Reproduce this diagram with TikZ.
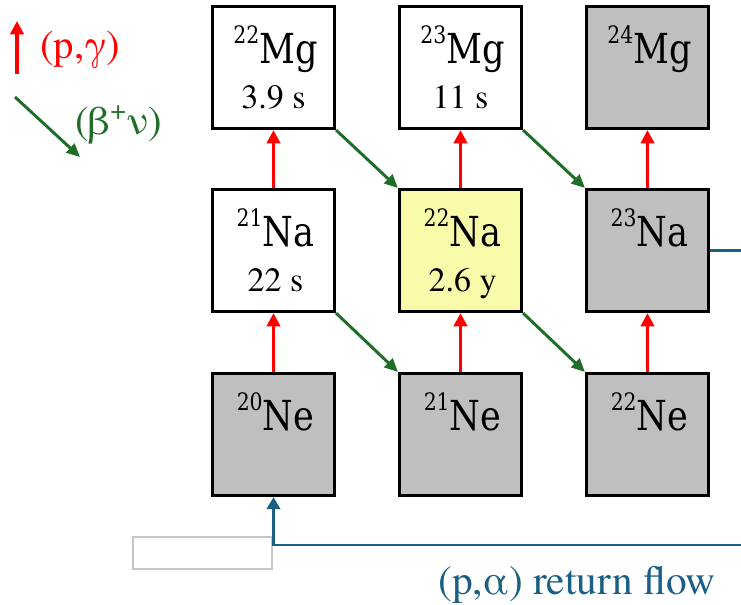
\documentclass[tikz,border=0pt]{standalone}
\usepackage{fontspec}
\newfontfamily\timesfont{texgyretermes-regular.otf}
\newfontfamily\nucfont{DejaVuSerif.ttf}[FakeStretch=0.85]
\usetikzlibrary{arrows.meta}

\definecolor{pgred}{RGB}{255,0,0}
\definecolor{betagreen}{RGB}{30,110,40}
\definecolor{flowblue}{RGB}{26,96,133}
\definecolor{stablegray}{RGB}{191,191,191}
\definecolor{longyellow}{RGB}{248,250,170}

\newcommand{\nuc}[2]{{\nucfont\fontsize{31pt}{31pt}\selectfont\raisebox{15pt}{\fontsize{18pt}{18pt}\selectfont #1}#2}}

\tikzset{
  cell/.style={draw, line width=2.4pt, minimum size=91.5pt, inner sep=0pt},
  stable/.style={cell, fill=stablegray},
  pg/.style={pgred, line width=2.5pt, -{Triangle[length=10pt, width=10pt]}},
  bn/.style={betagreen, line width=2.2pt, -{Triangle[length=10pt, width=9pt]}},
  ret/.style={flowblue, line width=2.2pt},
  halflife/.style={anchor=base, font=\timesfont\fontsize{25.5pt}{25.5pt}\selectfont},
}

\begin{document}
\begin{tikzpicture}[x=0.75pt, y=-0.75pt]
  \useasboundingbox (0,0) rectangle (741,604);
  \coordinate (PGa) at (17,74);
  \coordinate (PGb) at (17,21);
  \coordinate (BNa) at (15,97);
  \coordinate (BNb) at (80,157);
  \coordinate (edgeR) at (741,250.5);
  \coordinate (edgeB) at (741,545);

  %% cells
  \node[cell] (mg22) at (273.5,67.5) {};
  \node[cell] (mg23) at (460.5,67.5) {};
  \node[stable] (mg24) at (647.5,67.5) {};
  \node[cell] (na21) at (273.5,250.5) {};
  \node[cell, fill=longyellow] (na22) at (460.5,250.5) {};
  \node[stable] (na23) at (647.5,250.5) {};
  \node[stable] (ne20) at (273.5,434.5) {};
  \node[stable] (ne21) at (460.5,434.5) {};
  \node[stable] (ne22) at (647.5,434.5) {};

  \node[anchor=base] at (275.5,63) {\nuc{22}{Mg}};
  \node[anchor=base] at (462.5,63) {\nuc{23}{Mg}};
  \node[anchor=base] at (649.5,63) {\nuc{24}{Mg}};
  \node[anchor=base] at (275.5,246) {\nuc{21}{Na}};
  \node[anchor=base] at (462.5,246) {\nuc{22}{Na}};
  \node[anchor=base] at (649.5,246) {\nuc{23}{Na}};
  \node[anchor=base] at (275.5,430) {\nuc{20}{Ne}};
  \node[anchor=base] at (462.5,430) {\nuc{21}{Ne}};
  \node[anchor=base] at (649.5,430) {\nuc{22}{Ne}};
  \node[halflife] at (273.5,108) {3.9 s};
  \node[halflife] at (460.5,108) {11 s};
  \node[halflife] at (275.5,291) {22 s};
  \node[halflife] at (462.5,291) {2.6 y};

  \draw[pg] (ne20.north) -- (na21.south);
  \draw[pg] (na21.north) -- (mg22.south);
  \draw[pg] (ne21.north) -- (na22.south);
  \draw[pg] (na22.north) -- (mg23.south);
  \draw[pg] (ne22.north) -- (na23.south);
  \draw[pg] (na23.north) -- (mg24.south);
  \draw[bn] (na21.south east) -- (ne21.north west);
  \draw[bn] (mg22.south east) -- (na22.north west);
  \draw[bn] (na22.south east) -- (ne22.north west);
  \draw[bn] (mg23.south east) -- (na23.north west);

  %% return flow
  \draw[ret] (na23.east) -- (edgeR);
  \draw[gray!45, line width=0.8pt, fill=white] (133,537) rectangle (272,569);
  \draw[ret, -{Triangle[length=9pt, width=10pt]}] (edgeB) -| (ne20.south);
  \node[anchor=base west, flowblue, font=\timesfont\fontsize{31pt}{31pt}\selectfont, inner sep=0pt] (retlab) at (438,594) {(p,α) return flow};

  %% legend
  \draw[pg] (PGa) -- (PGb);
  \draw[bn] (BNa) -- (BNb);
  \node[anchor=base west, pgred, font=\timesfont\fontsize{30.5pt}{30.5pt}\selectfont, inner sep=0pt] (pglab) at (40,58) {(p,γ)};
  \node[anchor=base west, betagreen, font=\timesfont\fontsize{30.5pt}{30.5pt}\selectfont, inner sep=0pt] (bnlab) at (75,134) {(β\raisebox{11pt}{\fontsize{21pt}{21pt}\selectfont +}ν)};
\end{tikzpicture}
\end{document}
